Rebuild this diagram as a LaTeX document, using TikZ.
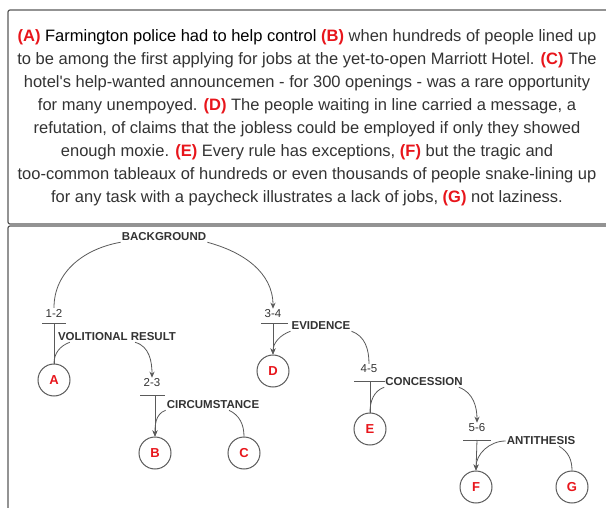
\documentclass[tikz,border=0pt]{standalone}
\usepackage{fontspec}
\setmainfont{Liberation Sans}
\usetikzlibrary{arrows.meta}
\definecolor{linegray}{HTML}{5A5A5A}
\definecolor{txtgray}{HTML}{333333}
\definecolor{segred}{HTML}{E8151B}
\newcommand{\seg}[1]{\textcolor{segred}{\textbf{#1}}}
\tikzset{
  unit/.style={circle, draw=linegray, line width=1pt, minimum size=32pt, inner sep=0pt,
    text=segred, font=\fontsize{13}{13}\selectfont\bfseries},
  rel/.style={inner sep=1pt, text=txtgray, font=\fontsize{11.5}{11.5}\selectfont\bfseries},
  span/.style={inner sep=1pt, text=txtgray, font=\fontsize{11.5}{11.5}\selectfont},
  bar/.style={draw=linegray, line width=1pt},
  arc/.style={draw=linegray, line width=0.8pt},
  arr/.style={arc, -{Stealth[length=6pt,width=5pt]}},
}
\begin{document}
\begin{tikzpicture}[x=1pt, y=-1pt]
\useasboundingbox (0,0) rectangle (606,508);
\fill[white] (0,0) rectangle (606,508);

% the two panels
\draw[linegray, line width=1.2pt, rounded corners=2pt] (8,10) rectangle (620,224);
\draw[linegray, line width=1.2pt, rounded corners=2pt] (8,226) rectangle (620,530);

\node[align=center, text=txtgray, font=\fontsize{16.5}{23}\selectfont] (txt) at (307,118) {%
\seg{(A)} {\color{black}Farmington police had to help control} \seg{(B)} when hundreds of people lined up\\
to be among the first applying for jobs at the yet-to-open Marriott Hotel. \seg{(C)} The\\
hotel\textquotesingle s help-wanted announcemen - for 300 openings - was a rare opportunity\\
for many unempoyed. \seg{(D)} The people waiting in line carried a message, a\\
refutation, of claims that the jobless could be employed if only they showed\\
enough moxie. \seg{(E)} Every rule has exceptions, \seg{(F)} but the tragic and\\
too-common tableaux of hundreds or even thousands of people snake-lining up\\
for any task with a paycheck illustrates a lack of jobs, \seg{(G)} not laziness.};

% elementary units
\foreach \n/\x/\y in {A/54/380, B/155/453, C/244/453, D/273/371, E/370/429, F/476/487, G/572/487}
  \node[unit] (\n) at (\x,\y) {\n};

% spans with their bars
\node[span] (s12) at (54,313) {1-2};
\node[span] (s34) at (273,314) {3-4};
\node[span] (s23) at (152,383) {2-3};
\node[span] (s45) at (369,369) {4-5};
\node[span] (s56) at (477,428) {5-6};
\coordinate (b12) at (54,323);
\coordinate (b34) at (273,323);
\coordinate (b23) at (155,395);
\coordinate (b45) at (370,381);
\coordinate (b56) at (477,440);
\draw[bar] (42,323) -- (66,323);
\draw[bar] (261,323) -- (288,323);
\draw[bar] (140,395) -- (165,395);
\draw[bar] (354,381) -- (385,381);
\draw[bar] (463,440) -- (491,440);

% relation names
\node[rel] (bg) at (164,237) {BACKGROUND};
\node[rel] (vr) at (117,337) {VOLITIONAL RESULT};
\node[rel] (circ) at (213,405) {CIRCUMSTANCE};
\node[rel] (ev) at (321,326) {EVIDENCE};
\node[rel] (con) at (424,382) {CONCESSION};
\node[rel] (anti) at (541,441) {ANTITHESIS};

% nucleus lines
\draw[arc] (b12) -- (A.north);
\draw[arr] (b34) -- (D.north);
\draw[arr] (b23) -- (B.north);
\draw[arc] (b45) -- (E.north);
\draw[arr] (b56) -- (F.north);

% relation arcs
\draw[arc] (s12.north) to[out=90, in=190] (bg.south west);
\draw[arr] (bg.south east) to[out=-15, in=90] (s34.north);
\draw[arc] ([xshift=13pt]vr.south west) to[out=200, in=90] (A.north);
\draw[arr] ([xshift=18pt]vr.south) to[out=-15, in=90] (s23.north);
\draw[arr] (circ.south west) to[out=200, in=90] (B.north);
\draw[arc] ([xshift=16pt]circ.south) to[out=-25, in=90] (C.north);
\draw[arr] (ev.south west) to[out=200, in=90] (D.north);
\draw[arc] (ev.south east) to[out=-20, in=90] (s45.north);
\draw[arc] (con.south west) to[out=200, in=90] (E.north);
\draw[arr] ([xshift=-5pt]con.south east) to[out=-20, in=90] (s56.north);
\draw[arr] (anti.west) to[out=180, in=90] (F.north);
\draw[arc] ([xshift=18pt]anti.south) to[out=-30, in=90] (G.north);
\end{tikzpicture}
\end{document}
